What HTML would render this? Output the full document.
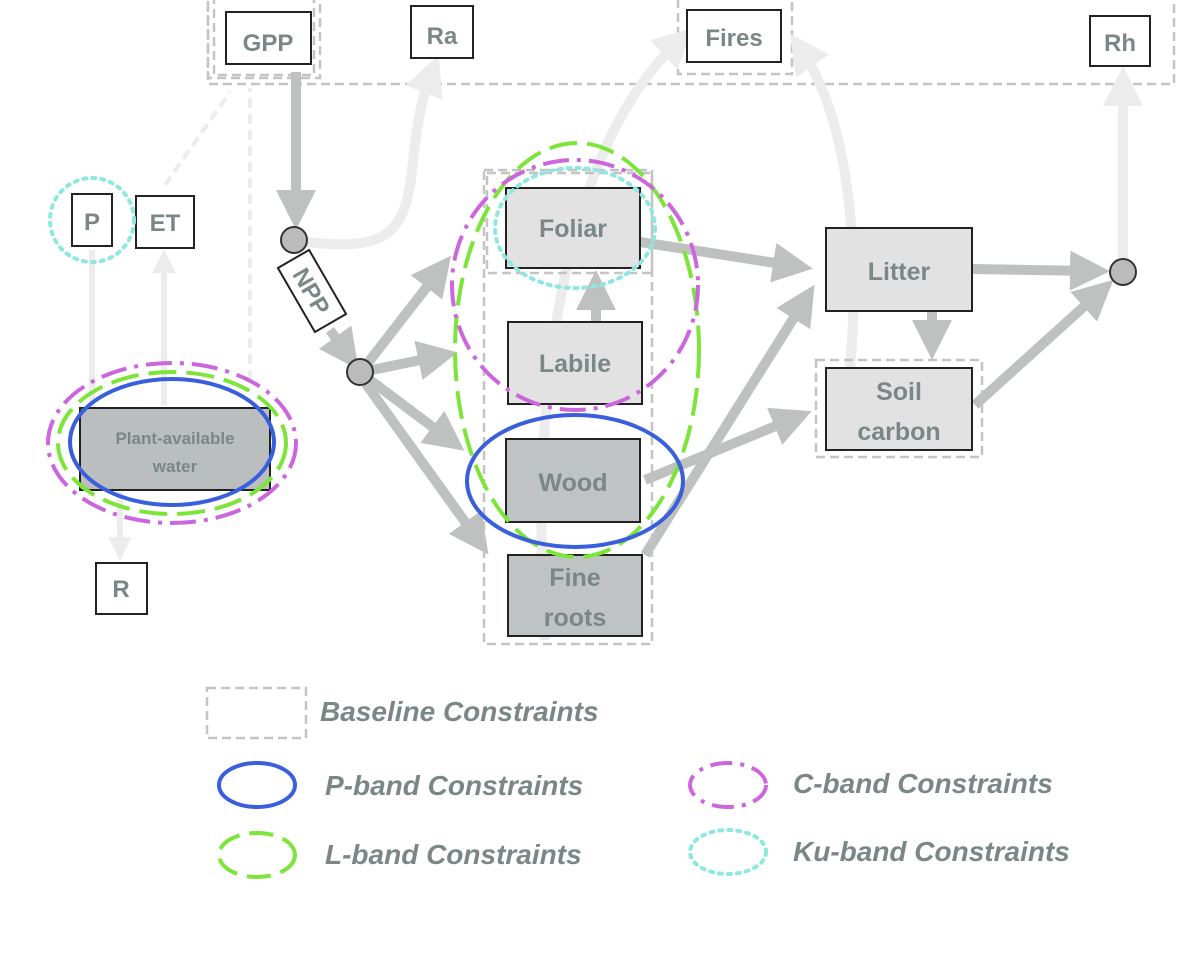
<!DOCTYPE html>
<html><head><style>
html,body{margin:0;padding:0;background:#fff;}
svg{display:block;}
text{font-family:"Liberation Sans",sans-serif;font-weight:bold;fill:#7b8787;}
</style></head><body>
<svg width="1200" height="964" viewBox="0 0 1200 964" xmlns="http://www.w3.org/2000/svg">
<defs>
<marker id="ah" markerWidth="4" markerHeight="4" refX="2.2" refY="2" orient="auto" markerUnits="strokeWidth"><path d="M0,0 L4,2 L0,4 z" fill="#bfc1c1"/></marker>
<marker id="al" markerWidth="4" markerHeight="4" refX="2.2" refY="2" orient="auto" markerUnits="strokeWidth"><path d="M0,0 L4,2 L0,4 z" fill="#ececec"/></marker>
</defs>
<!-- top dashed frame -->
<rect x="208" y="-10" width="966" height="94" fill="none" stroke="#c4c4c4" stroke-width="2.5" stroke-dasharray="9,5"/>
<rect x="208" y="-10" width="112" height="88" fill="none" stroke="#c4c4c4" stroke-width="2.5" stroke-dasharray="9,5"/>
<rect x="214" y="-4" width="100" height="79" fill="none" stroke="#c4c4c4" stroke-width="2.5" stroke-dasharray="9,5"/>
<rect x="678" y="-10" width="114" height="84" fill="none" stroke="#c4c4c4" stroke-width="2.5" stroke-dasharray="9,5"/>
<!-- light flows -->
<path d="M545,640 C530,400 560,150 680,40" fill="none" stroke="#ececec" stroke-width="10" marker-end="url(#al)"/>
<path d="M850,370 C860,250 850,120 800,48" fill="none" stroke="#ececec" stroke-width="10" marker-end="url(#al)"/>
<path d="M1123,258 L1123,84" fill="none" stroke="#ececec" stroke-width="10" marker-end="url(#al)"/>
<path d="M306,242 C380,250 405,240 412,170 C418,110 425,90 432,72" fill="none" stroke="#ececec" stroke-width="10" marker-end="url(#al)"/>
<path d="M92,410 L92,250" stroke="#ececec" stroke-width="6"/>
<path d="M164,405 L164,260" stroke="#ececec" stroke-width="6" marker-end="url(#al)"/>
<path d="M120,492 L120,550" stroke="#ececec" stroke-width="6" marker-end="url(#al)"/>
<path d="M250,380 L250,88" stroke="#ececec" stroke-width="4" stroke-dasharray="10,6"/>
<path d="M165,185 L230,92" stroke="#ececec" stroke-width="4" stroke-dasharray="10,6"/>
<!-- dark flows -->
<path d="M296,72 L296,212" stroke="#bfc1c1" stroke-width="10" marker-end="url(#ah)"/>
<path d="M330,330 L348,355" stroke="#bfc1c1" stroke-width="10" marker-end="url(#ah)"/>
<path d="M367,364 L440,270" stroke="#bfc1c1" stroke-width="10" marker-end="url(#ah)"/>
<path d="M372,370 L440,356" stroke="#bfc1c1" stroke-width="10" marker-end="url(#ah)"/>
<path d="M370,380 L450,440" stroke="#bfc1c1" stroke-width="10" marker-end="url(#ah)"/>
<path d="M366,384 L478,540" stroke="#bfc1c1" stroke-width="10" marker-end="url(#ah)"/>
<path d="M596,322 L596,288" stroke="#bfc1c1" stroke-width="10" marker-end="url(#ah)"/>
<path d="M640,242 L795,266" stroke="#bfc1c1" stroke-width="10" marker-end="url(#ah)"/>
<path d="M645,480 L795,418" stroke="#bfc1c1" stroke-width="10" marker-end="url(#ah)"/>
<path d="M645,555 L805,300" stroke="#bfc1c1" stroke-width="10" marker-end="url(#ah)"/>
<path d="M932,311 L932,342" stroke="#bfc1c1" stroke-width="10" marker-end="url(#ah)"/>
<path d="M972,269 L1092,271" stroke="#bfc1c1" stroke-width="10" marker-end="url(#ah)"/>
<path d="M975,405 L1100,292" stroke="#bfc1c1" stroke-width="10" marker-end="url(#ah)"/>
<!-- boxes top -->
<rect x="226" y="12" width="85" height="52" fill="#fff" stroke="#222" stroke-width="2"/>
<text x="268" y="51" font-size="24" text-anchor="middle">GPP</text>
<rect x="411" y="6" width="62" height="52" fill="#fff" stroke="#222" stroke-width="2"/>
<text x="442" y="44" font-size="24" text-anchor="middle">Ra</text>
<rect x="687" y="10" width="94" height="52" fill="#fff" stroke="#222" stroke-width="2"/>
<text x="734" y="46" font-size="24" text-anchor="middle">Fires</text>
<rect x="1090" y="16" width="60" height="50" fill="#fff" stroke="#222" stroke-width="2"/>
<text x="1120" y="51" font-size="24" text-anchor="middle">Rh</text>
<rect x="72" y="194" width="40" height="52" fill="#fff" stroke="#222" stroke-width="2"/>
<text x="92" y="230" font-size="24" text-anchor="middle">P</text>
<rect x="136" y="196" width="58" height="52" fill="#fff" stroke="#222" stroke-width="2"/>
<text x="165" y="231" font-size="24" text-anchor="middle">ET</text>
<circle cx="92" cy="220" r="42" fill="none" stroke="#8ee8e0" stroke-width="4" stroke-dasharray="3,6" stroke-linecap="round"/>
<!-- circles -->
<circle cx="294" cy="240" r="13" fill="#bbb" stroke="#333" stroke-width="2"/>
<circle cx="360" cy="372" r="13" fill="#bbb" stroke="#333" stroke-width="2"/>
<circle cx="1123" cy="272" r="13" fill="#bbb" stroke="#333" stroke-width="2"/>
<g transform="translate(312,291) rotate(60)">
<rect x="-37" y="-18" width="74" height="36" fill="#fff" stroke="#222" stroke-width="2"/>
<text x="0" y="9" font-size="24" text-anchor="middle">NPP</text>
</g>
<!-- pools -->
<rect x="484" y="170" width="168" height="474" fill="none" stroke="#c4c4c4" stroke-width="2.5" stroke-dasharray="9,5"/>
<rect x="487" y="173" width="165" height="100" fill="none" stroke="#c4c4c4" stroke-width="2.5" stroke-dasharray="9,5"/>
<rect x="506" y="188" width="134" height="80" fill="#e2e2e2" stroke="#222" stroke-width="2"/>
<text x="573" y="237" font-size="25" text-anchor="middle">Foliar</text>
<rect x="508" y="322" width="134" height="82" fill="#e2e2e2" stroke="#222" stroke-width="2"/>
<text x="575" y="372" font-size="25" text-anchor="middle">Labile</text>
<rect x="506" y="439" width="134" height="83" fill="#c0c3c3" stroke="#222" stroke-width="2"/>
<text x="573" y="491" font-size="25" text-anchor="middle">Wood</text>
<rect x="508" y="555" width="134" height="81" fill="#c0c3c3" stroke="#222" stroke-width="2"/>
<text x="575" y="586" font-size="25" text-anchor="middle">Fine</text>
<text x="575" y="626" font-size="25" text-anchor="middle">roots</text>
<rect x="826" y="228" width="146" height="83" fill="#e2e2e2" stroke="#222" stroke-width="2"/>
<text x="899" y="280" font-size="25" text-anchor="middle">Litter</text>
<rect x="816" y="360" width="166" height="97" fill="none" stroke="#c4c4c4" stroke-width="2.5" stroke-dasharray="9,5"/>
<rect x="826" y="368" width="146" height="82" fill="#e2e2e2" stroke="#222" stroke-width="2"/>
<text x="899" y="400" font-size="25" text-anchor="middle">Soil</text>
<text x="899" y="440" font-size="25" text-anchor="middle">carbon</text>
<!-- big ellipses -->
<ellipse cx="575" cy="228" rx="80" ry="60" fill="none" stroke="#8ee8e0" stroke-width="4" stroke-dasharray="3,6" stroke-linecap="round"/>
<ellipse cx="577" cy="350" rx="122" ry="207" fill="none" stroke="#7de53a" stroke-width="4" stroke-dasharray="28,10"/>
<ellipse cx="575" cy="285" rx="123" ry="125" fill="none" stroke="#cc66dd" stroke-width="4" stroke-dasharray="26,8,4,8"/>
<ellipse cx="575" cy="481" rx="108" ry="66" fill="none" stroke="#3a5fdd" stroke-width="4"/>
<!-- water -->
<rect x="80" y="408" width="190" height="82" fill="#bbbebe" stroke="#222" stroke-width="2"/>
<text x="175" y="444" font-size="17" text-anchor="middle">Plant-available</text>
<text x="175" y="472" font-size="17" text-anchor="middle">water</text>
<ellipse cx="172" cy="443" rx="124" ry="80" fill="none" stroke="#cc66dd" stroke-width="4" stroke-dasharray="26,8,4,8"/>
<ellipse cx="172" cy="443" rx="114" ry="71" fill="none" stroke="#7de53a" stroke-width="4" stroke-dasharray="28,10"/>
<ellipse cx="172" cy="442" rx="102" ry="63" fill="none" stroke="#3a5fdd" stroke-width="4"/>
<rect x="96" y="563" width="51" height="51" fill="#fff" stroke="#222" stroke-width="2"/>
<text x="121" y="597" font-size="24" text-anchor="middle">R</text>
<!-- legend -->
<rect x="207" y="688" width="99" height="50" fill="none" stroke="#c4c4c4" stroke-width="2.5" stroke-dasharray="9,5"/>
<text x="320" y="721" font-size="28" font-style="italic">Baseline Constraints</text>
<ellipse cx="257" cy="785" rx="38" ry="22" fill="none" stroke="#3a5fdd" stroke-width="4"/>
<text x="325" y="795" font-size="28" font-style="italic">P-band Constraints</text>
<ellipse cx="257" cy="855" rx="38" ry="22" fill="none" stroke="#7de53a" stroke-width="4" stroke-dasharray="24,10"/>
<text x="325" y="864" font-size="28" font-style="italic">L-band Constraints</text>
<ellipse cx="728" cy="785" rx="38" ry="22" fill="none" stroke="#cc66dd" stroke-width="4" stroke-dasharray="22,8,4,8"/>
<text x="793" y="793" font-size="28" font-style="italic">C-band Constraints</text>
<ellipse cx="728" cy="852" rx="38" ry="22" fill="none" stroke="#8ee8e0" stroke-width="4" stroke-dasharray="3,6" stroke-linecap="round"/>
<text x="793" y="861" font-size="28" font-style="italic">Ku-band Constraints</text>
</svg>
</body></html>
